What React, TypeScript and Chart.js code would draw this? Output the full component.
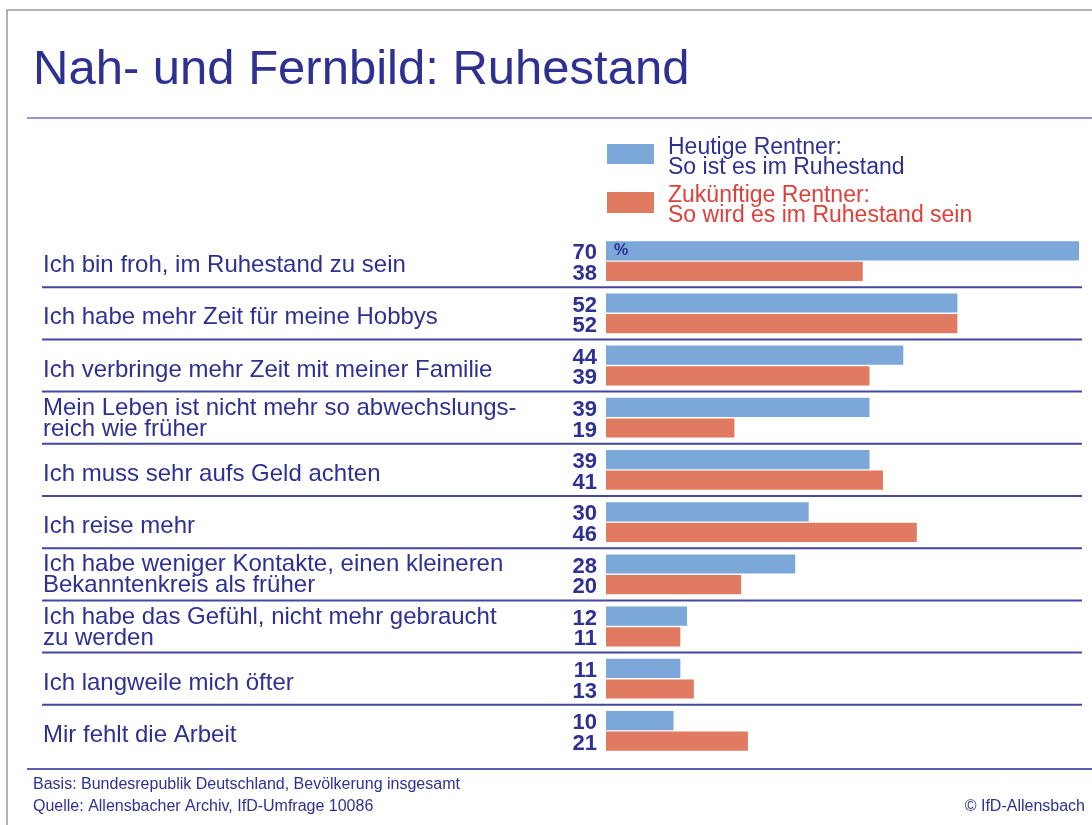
import React, { useEffect, useRef } from "react";
import { Chart, registerables } from "chart.js";

Chart.register(...registerables);

const titleText = "Nah- und Fernbild: Ruhestand";

const categories: string[][] = [
  ["Ich bin froh, im Ruhestand zu sein"],
  ["Ich habe mehr Zeit für meine Hobbys"],
  ["Ich verbringe mehr Zeit mit meiner Familie"],
  ["Mein Leben ist nicht mehr so abwechslungs-", "reich wie früher"],
  ["Ich muss sehr aufs Geld achten"],
  ["Ich reise mehr"],
  ["Ich habe weniger Kontakte, einen kleineren", "Bekanntenkreis als früher"],
  ["Ich habe das Gefühl, nicht mehr gebraucht", "zu werden"],
  ["Ich langweile mich öfter"],
  ["Mir fehlt die Arbeit"],
];

const heutigeRentner = [70, 52, 44, 39, 39, 30, 28, 12, 11, 10];
const zukuenftigeRentner = [38, 52, 39, 19, 41, 46, 20, 11, 13, 21];

const legendHeutige = ["Heutige Rentner:", "So ist es im Ruhestand"];
const legendZukunft = ["Zukünftige Rentner:", "So wird es im Ruhestand sein"];

const footerLines = [
  "Basis: Bundesrepublik Deutschland, Bevölkerung insgesamt",
  "Quelle: Allensbacher Archiv, IfD-Umfrage 10086",
];
const copyrightText = "© IfD-Allensbach";

const BLUE = "#7ba7d9";
const RED = "#e07a60";
const NAVY = "#2e3192";
const REDTEXT = "#e0403a";
const FONT = '"Liberation Sans", Arial, sans-serif';

const decorPlugin = {
  id: "decor",
  beforeDraw(chart: any) {
    const ctx = chart.ctx as CanvasRenderingContext2D;
    const W = chart.width;
    const H = chart.height;
    ctx.save();
    ctx.fillStyle = "#ffffff";
    ctx.fillRect(0, 0, W, H);

    // outer frame
    ctx.strokeStyle = "#9a9a9a";
    ctx.lineWidth = 1.5;
    ctx.beginPath();
    ctx.moveTo(7, H);
    ctx.lineTo(7, 10);
    ctx.lineTo(W, 10);
    ctx.stroke();

    // title
    ctx.fillStyle = NAVY;
    ctx.font = `49px ${FONT}`;
    ctx.textAlign = "left";
    ctx.textBaseline = "alphabetic";
    ctx.fillText(titleText, 33, 84);

    // title rule
    ctx.strokeStyle = "#6f72c0";
    ctx.lineWidth = 1.5;
    ctx.beginPath();
    ctx.moveTo(27, 118);
    ctx.lineTo(W, 118);
    ctx.stroke();

    // legend
    const xScale = chart.scales.x;
    const lx = xScale.getPixelForValue(0);
    ctx.fillStyle = BLUE;
    ctx.fillRect(lx + 1, 144, 47, 20);
    ctx.fillStyle = RED;
    ctx.fillRect(lx + 1, 192, 47, 21);
    ctx.font = `23px ${FONT}`;
    ctx.fillStyle = NAVY;
    ctx.fillText(legendHeutige[0], 668, 154);
    ctx.fillText(legendHeutige[1], 668, 174);
    ctx.fillStyle = REDTEXT;
    ctx.fillText(legendZukunft[0], 668, 202);
    ctx.fillText(legendZukunft[1], 668, 222);

    // row separators
    const yScale = chart.scales.y;
    ctx.lineWidth = 2;
    ctx.strokeStyle = "#4446a0";
    for (let i = 0; i < categories.length - 1; i++) {
      const y = (yScale.getPixelForValue(i) + yScale.getPixelForValue(i + 1)) / 2;
      ctx.beginPath();
      ctx.moveTo(42, y);
      ctx.lineTo(1082, y);
      ctx.stroke();
    }

    // footer rule
    ctx.strokeStyle = "#5b5db0";
    ctx.lineWidth = 2;
    ctx.beginPath();
    ctx.moveTo(27, 769);
    ctx.lineTo(W, 769);
    ctx.stroke();

    // footer text
    ctx.fillStyle = NAVY;
    ctx.font = `16px ${FONT}`;
    ctx.fillText(footerLines[0], 33, 789);
    ctx.fillText(footerLines[1], 33, 811);
    ctx.textAlign = "right";
    ctx.fillText(copyrightText, 1085, 811);
    ctx.restore();
  },
  afterDatasetsDraw(chart: any) {
    const ctx = chart.ctx as CanvasRenderingContext2D;
    const yScale = chart.scales.y;
    ctx.save();
    ctx.fillStyle = NAVY;

    // category labels
    ctx.font = `24px ${FONT}`;
    ctx.textAlign = "left";
    ctx.textBaseline = "alphabetic";
    categories.forEach((lines, i) => {
      const c = yScale.getPixelForValue(i);
      if (lines.length === 1) {
        ctx.fillText(lines[0], 43, c + 11);
      } else {
        ctx.fillText(lines[0], 43, c - 3);
        ctx.fillText(lines[1], 43, c + 18);
      }
    });

    // value labels
    ctx.font = `bold 22px ${FONT}`;
    ctx.textAlign = "right";
    chart.data.datasets.forEach((ds: any, di: number) => {
      const meta = chart.getDatasetMeta(di);
      meta.data.forEach((bar: any, i: number) => {
        const bottom = bar.y + bar.height / 2;
        ctx.fillText(String(ds.data[i]), 597, bottom - 1);
      });
    });

    // percent sign in first bar
    const first = chart.getDatasetMeta(0).data[0];
    ctx.font = `bold 16px ${FONT}`;
    ctx.textAlign = "left";
    ctx.textBaseline = "middle";
    ctx.fillText("%", first.base + 8, first.y);
    ctx.restore();
  },
};

export default function App() {
  const canvasRef = useRef<HTMLCanvasElement | null>(null);

  useEffect(() => {
    if (!canvasRef.current) return;
    const chart = new Chart(canvasRef.current, {
      type: "bar",
      data: {
        labels: categories,
        datasets: [
          {
            label: legendHeutige.join(" "),
            data: heutigeRentner,
            backgroundColor: BLUE,
            borderWidth: 0,
            barPercentage: 0.93,
            categoryPercentage: 0.79,
          },
          {
            label: legendZukunft.join(" "),
            data: zukuenftigeRentner,
            backgroundColor: RED,
            borderWidth: 0,
            barPercentage: 0.93,
            categoryPercentage: 0.79,
          },
        ],
      },
      options: {
        indexAxis: "y",
        animation: false,
        responsive: false,
        devicePixelRatio: 1,
        layout: { padding: { left: 606, right: 13, top: 235, bottom: 68 } },
        scales: {
          x: { display: false, min: 0, max: 70 },
          y: { display: false, offset: true },
        },
        plugins: {
          legend: { display: false },
          tooltip: { enabled: false },
          title: { display: false },
        },
      },
      plugins: [decorPlugin],
    } as any);
    return () => chart.destroy();
  }, []);

  return (
    <div style={{ position: "absolute", left: 0, top: 0, width: 1092, height: 825 }}>
      <canvas ref={canvasRef} width={1092} height={825} style={{ display: "block" }} />
    </div>
  );
}
